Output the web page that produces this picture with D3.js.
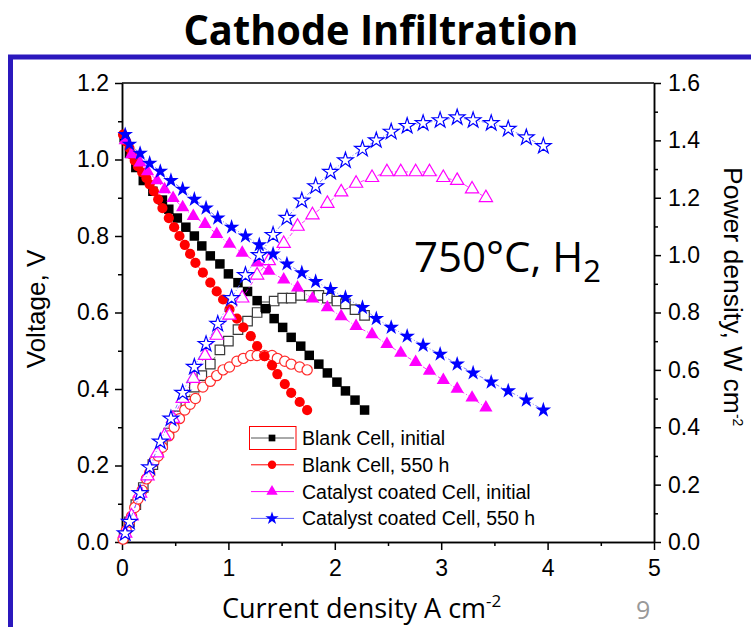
<!DOCTYPE html>
<html>
<head>
<meta charset="utf-8">
<title>Cathode Infiltration</title>
<script src="https://cdn.jsdelivr.net/npm/d3@7/dist/d3.min.js"></script>
<style>
  * { margin:0; padding:0; }
  body { background:#fff; }
  .tick text { font-family:"Liberation Sans", Arial, sans-serif; font-size:23px; fill:#000; }
  .axis path, .axis line { stroke:#000; stroke-width:1.5px; }
</style>
</head>
<body>
<div id="show"></div>
<script>
// current density (A cm-2), voltage (V), power density (W cm-2)
var blankInitI = [0.02,0.07,0.13,0.20,0.29,0.38,0.44,0.52,0.60,0.68,0.75,0.83,0.92,1.00,1.09,1.18,1.27,1.35,1.43,1.51,1.59,1.68,1.76,1.85,1.93,2.02,2.10,2.19,2.28];
var blankInitV = [1.057,1.016,0.979,0.945,0.917,0.894,0.870,0.847,0.823,0.800,0.774,0.748,0.727,0.701,0.678,0.655,0.631,0.610,0.584,0.561,0.535,0.512,0.488,0.465,0.442,0.418,0.395,0.371,0.345];
var blankInitP = [0.02,0.07,0.13,0.19,0.27,0.34,0.38,0.44,0.49,0.54,0.58,0.62,0.67,0.70,0.74,0.77,0.80,0.82,0.84,0.85,0.85,0.86,0.86,0.86,0.85,0.84,0.83,0.81,0.79];

var blank550I = [0.01,0.04,0.07,0.09,0.12,0.15,0.19,0.23,0.26,0.30,0.34,0.38,0.44,0.49,0.54,0.59,0.64,0.69,0.76,0.83,0.89,0.95,1.01,1.08,1.14,1.21,1.27,1.34,1.41,1.46,1.53,1.59,1.67,1.74];
var blank550V = [1.065,1.047,1.030,1.013,0.997,0.982,0.966,0.951,0.935,0.917,0.896,0.873,0.847,0.823,0.800,0.777,0.753,0.730,0.704,0.678,0.655,0.634,0.608,0.584,0.561,0.538,0.512,0.486,0.462,0.439,0.413,0.390,0.366,0.345];
var blank550P = [0.01,0.04,0.07,0.09,0.12,0.15,0.18,0.22,0.24,0.28,0.30,0.33,0.37,0.40,0.43,0.46,0.48,0.50,0.54,0.56,0.58,0.60,0.61,0.63,0.64,0.65,0.65,0.65,0.65,0.64,0.63,0.62,0.61,0.60];

var catInitI = [0.03,0.09,0.17,0.24,0.33,0.40,0.48,0.57,0.67,0.78,0.89,1.01,1.13,1.27,1.38,1.52,1.65,1.79,1.93,2.06,2.20,2.35,2.49,2.62,2.76,2.89,3.02,3.15,3.29,3.42];
var catInitV = [1.050,1.013,0.992,0.969,0.945,0.922,0.899,0.875,0.852,0.831,0.805,0.779,0.756,0.730,0.709,0.686,0.665,0.636,0.613,0.590,0.564,0.543,0.517,0.494,0.470,0.447,0.423,0.400,0.377,0.351];
var catInitP = [0.03,0.09,0.17,0.23,0.31,0.37,0.43,0.50,0.57,0.65,0.72,0.79,0.85,0.93,0.98,1.04,1.10,1.14,1.18,1.22,1.25,1.27,1.29,1.29,1.29,1.29,1.27,1.26,1.23,1.20];

var cat550I = [0.03,0.07,0.17,0.26,0.36,0.46,0.57,0.68,0.79,0.90,1.03,1.16,1.29,1.42,1.55,1.69,1.82,1.96,2.10,2.26,2.39,2.53,2.68,2.83,2.99,3.15,3.30,3.47,3.63,3.80,3.96];
var cat550V = [1.065,1.040,1.016,0.990,0.969,0.945,0.922,0.896,0.873,0.847,0.823,0.800,0.777,0.753,0.727,0.704,0.681,0.660,0.639,0.613,0.584,0.561,0.538,0.514,0.491,0.465,0.442,0.418,0.395,0.371,0.345];
var cat550P = [0.03,0.07,0.17,0.26,0.35,0.43,0.52,0.61,0.69,0.76,0.85,0.93,1.00,1.07,1.13,1.19,1.24,1.29,1.33,1.37,1.40,1.43,1.45,1.46,1.47,1.48,1.47,1.46,1.44,1.41,1.38];

var legendNames = ["Blank Cell, initial","Blank Cell, 550 h","Catalyst coated Cell, initial","Catalyst coated Cell, 550 h"];
var xTicks = [0,1,2,3,4,5];
var vTicks = [0,0.2,0.4,0.6,0.8,1.0,1.2];
var pTicks = [0,0.2,0.4,0.6,0.8,1.0,1.2,1.4,1.6];

var series = [
  {name:legendNames[0], I:blankInitI, V:blankInitV, P:blankInitP, color:"#000", open:"#3a3a3a", line:"#555", sym:d3.symbolSquare, size:90, lsize:45},
  {name:legendNames[1], I:blank550I, V:blank550V, P:blank550P, color:"#ff0000", open:"#ff2a2a", line:"#ff0000", sym:d3.symbolCircle, size:82, lsize:55},
  {name:legendNames[2], I:catInitI, V:catInitV, P:catInitP, color:"#ff00ff", open:"#ff00ff", line:"#ff00ff", sym:d3.symbolTriangle, size:76, lsize:55},
  {name:legendNames[3], I:cat550I, V:cat550V, P:cat550P, color:"#0000ff", open:"#0000ff", line:"#6060ff", sym:d3.symbolStar, size:76, lsize:55}
];

var W = 751, H = 627;
var svg = d3.select("#show").append("svg").attr("width",W).attr("height",H);

// blue slide frame
svg.append("line").attr("x1",8).attr("x2",W).attr("y1",57).attr("y2",57)
   .attr("stroke","#2b18bd").attr("stroke-width",5);
svg.append("line").attr("x1",10.5).attr("x2",10.5).attr("y1",55).attr("y2",H)
   .attr("stroke","#2b18bd").attr("stroke-width",5);

svg.append("text").attr("x",381).attr("y",45).attr("text-anchor","middle")
   .attr("font-family","'Open Sans', 'Noto Sans', sans-serif").attr("font-weight","bold")
   .attr("font-size",41).attr("textLength",395).attr("lengthAdjust","spacingAndGlyphs")
   .text("Cathode Infiltration");

var x = d3.scaleLinear().domain([0,5]).range([122,654]);
var yV = d3.scaleLinear().domain([0,1.2]).range([542,83]);
var yP = d3.scaleLinear().domain([0,1.6]).range([542,83]);
var fmt = d3.format(".1f");

// top frame line
svg.append("line").attr("x1",x(0)).attr("x2",x(5)).attr("y1",yV(1.2)).attr("y2",yV(1.2))
   .attr("stroke","#000").attr("stroke-width",1.5);

// minor ticks
svg.append("g").attr("class","axis").attr("transform","translate("+x(0)+",0)")
   .call(d3.axisLeft(yV).tickValues(d3.range(0.1,1.2,0.2)).tickSize(4).tickFormat("").tickSizeOuter(0));
svg.append("g").attr("class","axis").attr("transform","translate("+x(5)+",0)")
   .call(d3.axisRight(yP).tickValues(d3.range(0.1,1.6,0.2)).tickSize(4).tickFormat("").tickSizeOuter(0));
svg.append("g").attr("class","axis").attr("transform","translate(0,"+yV(0)+")")
   .call(d3.axisBottom(x).tickValues([0.5,1.5,2.5,3.5,4.5]).tickSize(4).tickFormat("").tickSizeOuter(0));

svg.append("g").attr("class","axis").attr("transform","translate("+x(0)+",0)")
   .call(d3.axisLeft(yV).tickValues(vTicks).tickSize(7).tickPadding(6).tickFormat(fmt).tickSizeOuter(0));
svg.append("g").attr("class","axis").attr("transform","translate("+x(5)+",0)")
   .call(d3.axisRight(yP).tickValues(pTicks).tickSize(7).tickPadding(7).tickFormat(fmt).tickSizeOuter(0));
svg.append("g").attr("class","axis").attr("transform","translate(0,"+yV(0)+")")
   .call(d3.axisBottom(x).tickValues(xTicks).tickSize(8).tickPadding(10).tickFormat(d3.format("d")).tickSizeOuter(0));

svg.append("text").attr("transform","translate(45,309) rotate(-90)").attr("text-anchor","middle")
   .attr("font-family","'Liberation Sans', Arial, sans-serif").attr("font-size",26).text("Voltage, V");

var rl = svg.append("text").attr("transform","translate(724,167) rotate(90)")
   .attr("font-family","'Liberation Sans', Arial, sans-serif").attr("font-size",26.5);
rl.append("tspan").text("Power density, W cm");
rl.append("tspan").attr("dy",-9).attr("font-size",14).text("-2");

var xl = svg.append("text").attr("x",222).attr("y",618)
   .attr("font-family","'Open Sans', 'Noto Sans', sans-serif").attr("font-size",27);
xl.append("tspan").text("Current density A cm");
xl.append("tspan").attr("dy",-11).attr("font-size",17).text("-2");

svg.append("text").attr("x",636).attr("y",619).attr("font-family","'Open Sans', sans-serif")
   .attr("font-size",25).attr("fill","#999").text("9");

var ann = svg.append("text").attr("x",414).attr("y",272)
   .attr("font-family","'Open Sans', 'Noto Sans', sans-serif").attr("font-size",42);
ann.append("tspan").text("750°C, H");
ann.append("tspan").attr("dy",10).attr("font-size",31).text("2");

// curves
var plot = svg.append("g");
series.forEach(function(s){
  var vPts = s.I.map(function(d,i){ return [x(d), yV(s.V[i])]; });
  var pPts = s.I.map(function(d,i){ return [x(d), yP(s.P[i])]; });
  [vPts,pPts].forEach(function(pts){
    plot.append("path").attr("d",d3.line()(pts)).attr("fill","none")
        .attr("stroke",s.line).attr("stroke-width",0.8).attr("stroke-dasharray","4,2,1,2");
  });
  var sym = d3.symbol().type(s.sym).size(s.size);
  plot.append("g").selectAll("path").data(pPts).enter().append("path")
      .attr("transform",function(d){ return "translate("+d[0]+","+d[1]+")"; })
      .attr("d",sym).attr("fill","#fff").attr("stroke",s.open).attr("stroke-width",1.2);
  plot.append("g").selectAll("path").data(vPts).enter().append("path")
      .attr("transform",function(d){ return "translate("+d[0]+","+d[1]+")"; })
      .attr("d",sym).attr("fill",s.color);
});

// legend
var lg = svg.append("g");
lg.append("rect").attr("x",249.5).attr("y",426.5).attr("width",46.5).attr("height",23)
  .attr("fill","#fff").attr("stroke","#ff0000").attr("stroke-width",1);
series.forEach(function(s,i){
  var ly = 438 + i*26.8;
  lg.append("line").attr("x1",251).attr("x2",294).attr("y1",ly).attr("y2",ly)
    .attr("stroke",s.line).attr("stroke-width",1);
  lg.append("path").attr("transform","translate(272,"+ly+")")
    .attr("d",d3.symbol().type(s.sym).size(s.lsize)).attr("fill",s.color);
  lg.append("text").attr("x",302).attr("y",ly+7)
    .attr("font-family","'Liberation Sans', Arial, sans-serif").attr("font-size",19.5).text(s.name);
});
</script>
</body>
</html>
